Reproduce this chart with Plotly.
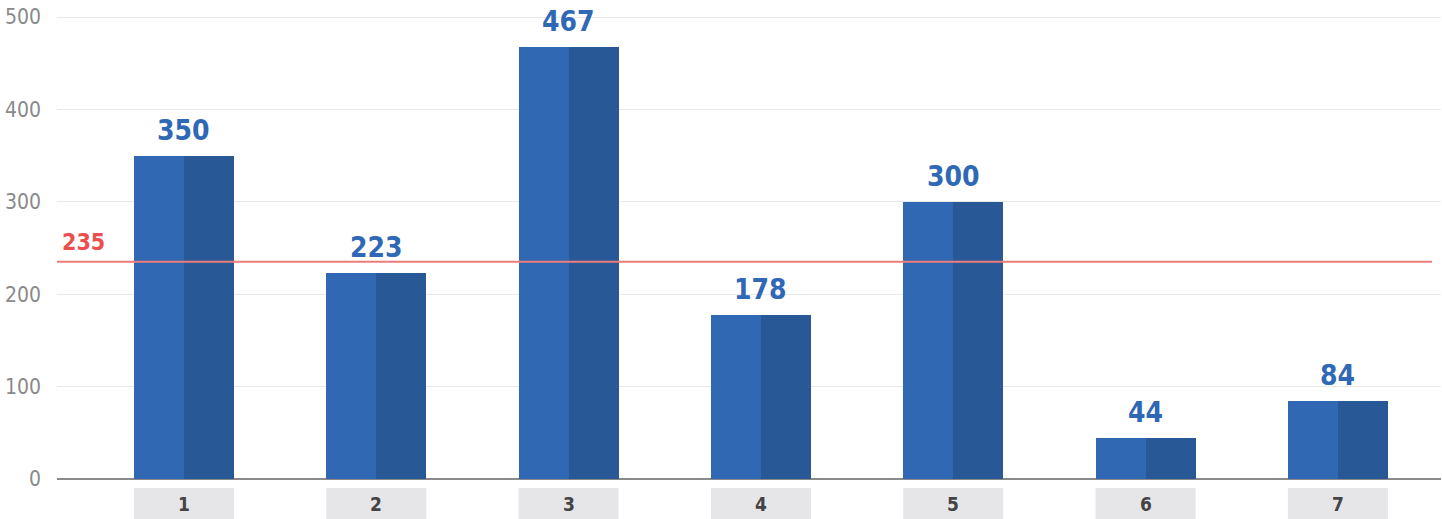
import plotly.graph_objects as go

# Chart data
categories = ["1", "2", "3", "4", "5", "6", "7"]
values = [350, 223, 467, 178, 300, 44, 84]
reference_value = 235
y_ticks = [0, 100, 200, 300, 400, 500]

COND = "DejaVu Sans Condensed, Liberation Sans Narrow, Roboto, sans-serif"
LIGHT_BLUE = "#3068b4"
DARK_BLUE = "#285895"
LABEL_BLUE = "#2f68b5"
RED_LINE = "#ec7c7c"
RED_TEXT = "#ec4f4f"

pos = list(range(len(categories)))
half = 0.26

fig = go.Figure()
# two-tone bars: left half lighter, right half darker
fig.add_trace(go.Bar(x=pos, y=values, width=half, offset=-half,
                     marker=dict(color=LIGHT_BLUE, line=dict(width=0)),
                     hoverinfo="skip", showlegend=False))
fig.add_trace(go.Bar(x=pos, y=values, width=half, offset=0,
                     marker=dict(color=DARK_BLUE, line=dict(width=0)),
                     hoverinfo="skip", showlegend=False))

annotations = []
shapes = []
for p, c, v in zip(pos, categories, values):
    annotations.append(dict(x=p, y=v, xref="x", yref="y", text=f"<b>{v}</b>",
                            showarrow=False, yanchor="bottom", yshift=7,
                            font=dict(family=COND, size=28, color=LABEL_BLUE)))
    # grey category boxes under the axis
    shapes.append(dict(type="rect", xref="x", yref="paper",
                       x0=p - half, x1=p + half, y0=-0.0835, y1=-0.0188,
                       fillcolor="#e6e6e8", line=dict(width=0), layer="below"))
    annotations.append(dict(x=p, y=-0.053, xref="x", yref="paper", text=f"<b>{c}</b>",
                            showarrow=False, yanchor="middle",
                            font=dict(family=COND, size=19, color="#444444")))

# reference line and its label
shapes.append(dict(type="line", xref="paper", yref="y", x0=0, x1=0.9935,
                   y0=reference_value, y1=reference_value,
                   line=dict(color=RED_LINE, width=2)))
annotations.append(dict(x=0.002, y=reference_value, xref="paper", yref="y",
                        text=f"<b>{reference_value}</b>", showarrow=False,
                        xanchor="left", yanchor="bottom", yshift=5,
                        font=dict(family=COND, size=23, color=RED_TEXT)))

fig.update_layout(
    width=1442, height=519,
    margin=dict(l=57, r=1, t=0, b=40),
    paper_bgcolor="white", plot_bgcolor="white",
    barmode="overlay", bargap=0,
    shapes=shapes, annotations=annotations,
    xaxis=dict(range=[-0.660, 6.536], showticklabels=False, showgrid=False,
               zeroline=False, showline=False, fixedrange=True),
    yaxis=dict(range=[0, 518.4], tickvals=y_ticks, ticktext=[str(t) for t in y_ticks],
               showgrid=True, gridcolor="#e8e8e8", gridwidth=1,
               zeroline=True, zerolinecolor="#8a8a8a", zerolinewidth=2,
               showline=False, ticks="", ticklabelstandoff=15,
               tickfont=dict(family=COND, size=21, color="#8a8a8a"),
               fixedrange=True),
)

fig.write_html("out.html")
